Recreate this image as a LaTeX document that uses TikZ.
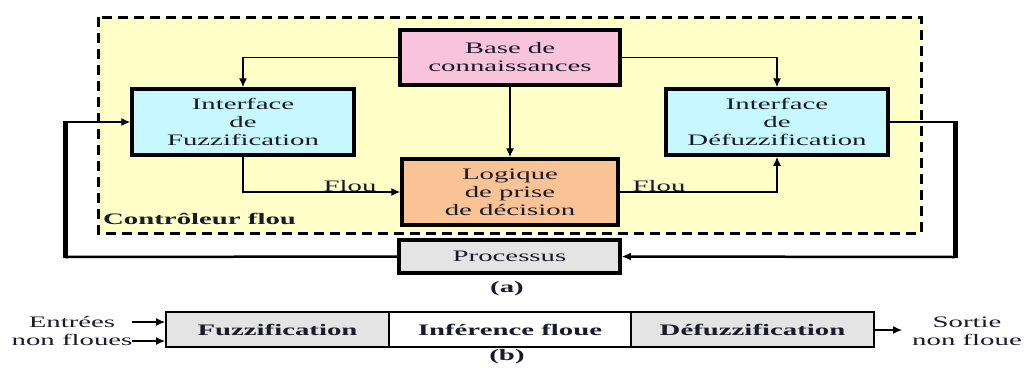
\documentclass[tikz,border=0pt]{standalone}
\usepackage{fontspec}
\setmainfont{Liberation Serif}[FakeStretch=1.8]
\usetikzlibrary{arrows.meta}
\definecolor{ctrlyellow}{HTML}{FFFFC8}
\definecolor{basepink}{HTML}{F7C4DC}
\definecolor{ifcyan}{HTML}{C8F8FF}
\definecolor{logicorange}{HTML}{F9C396}
\definecolor{procgray}{HTML}{E4E4E4}
\definecolor{ink}{HTML}{1A1A28}
\begin{document}
\begin{tikzpicture}[x=1pt,y=-1pt,
  every node/.style={font=\fontsize{16}{18}\selectfont, inner sep=0pt, text=ink},
  block/.style={draw, line width=3.5pt, align=center},
  cell/.style={draw, line width=2pt, minimum height=35pt, font=\fontsize{16}{18}\selectfont\bfseries},
  wire/.style={line width=1.4pt},
  arr/.style={wire, -{Latex[length=9pt,width=8pt]}},
  loopwire/.style={line width=2.5pt},
  loopbar/.style={line width=5pt},
  lbl/.style={anchor=south}
]
\useasboundingbox (0,0) rectangle (1033,367);

% fuzzy controller frame
\draw[line width=3pt, dash pattern=on 10pt off 6pt, fill=ctrlyellow] (98,17) rectangle (921,233);
\node[anchor=west, font=\fontsize{16}{18}\selectfont\bfseries] (ctrl) at (103,219) {Contrôleur flou};

% blocks of part (a)
\node[block, fill=basepink, minimum width=220pt, minimum height=55pt] (base) at (510,57.5) {Base de\\connaissances};
\node[block, fill=ifcyan, minimum width=222pt, minimum height=66pt] (fuzz) at (243,122) {Interface\\de\\Fuzzification};
\node[block, fill=logicorange, minimum width=216pt, minimum height=66pt] (logic) at (510,192) {Logique\\de prise\\de décision};
\node[block, fill=ifcyan, minimum width=222pt, minimum height=66pt] (defuzz) at (777,122) {Interface\\de\\Défuzzification};
\node[block, fill=procgray, minimum width=221pt, minimum height=33pt] (proc) at (509.5,256.5) {Processus};

% knowledge base links
\draw[arr] (base.west) -| (fuzz.north);
\draw[arr] (base.east) -| (defuzz.north);
\draw[arr] (base.south) -- (logic.north);

% fuzzy data flow
\draw[arr] (fuzz.south) |- (logic.west);
\draw[arr] (logic.east) -| (defuzz.south);
\node[lbl] (flou1) at (350,192) {Flou};
\node[lbl] (flou2) at (659,192) {Flou};

% process feedback loop
\coordinate (rtop) at (955,122);
\coordinate (rbot) at (955,257);
\coordinate (ltop) at (65,122);
\coordinate (lbot) at (65,257);
\draw[loopwire] (defuzz.east) -- (rtop);
\draw[loopbar] ([yshift=1.2pt]rtop) -- ([yshift=-1.2pt]rbot);
\draw[loopwire, -{Latex[length=9pt,width=8pt]}] (rbot) -- (proc.east);
\draw[loopwire] (proc.west) -- (lbot);
\draw[loopbar] ([yshift=-1.2pt]lbot) -- ([yshift=1.2pt]ltop);
\draw[wire, -{Latex[length=9pt,width=8pt]}] (ltop) -- (fuzz.west);

\node[font=\fontsize{16}{18}\selectfont\bfseries] (capa) at (507,289) {(a)};

% part (b): processing chain
\node[cell, fill=procgray, minimum width=223pt] (bf) at (277.5,329.5) {Fuzzification};
\node[cell, fill=white, minimum width=242pt] (bi) at (510,329.5) {Inférence floue};
\node[cell, fill=procgray, minimum width=243pt] (bd) at (752.5,329.5) {Défuzzification};

\node[align=center] (inputs) at (72,331) {Entrées\\non floues};
\coordinate (in1) at (132,322);
\coordinate (in2) at (132,341);
\draw[arr, line width=1.2pt] (in1) -- (bf.west |- in1);
\draw[arr, line width=1.2pt] (in2) -- (bf.west |- in2);

\coordinate (outend) at (902,330);
\draw[arr, line width=1.2pt] (bd.east |- outend) -- (outend);
\node[align=center] (output) at (967,331) {Sortie\\non floue};

\node[font=\fontsize{16}{18}\selectfont\bfseries] (capb) at (507,357) {(b)};
\end{tikzpicture}
\end{document}
